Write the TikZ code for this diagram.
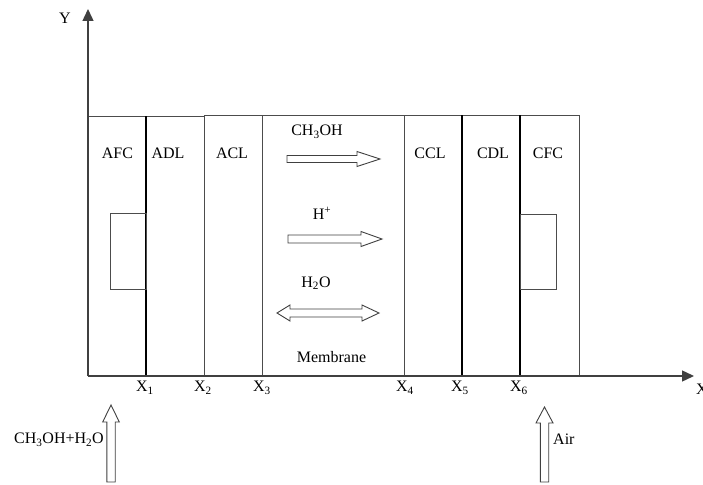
\documentclass[tikz,border=0pt]{standalone}
\usepackage{fontspec}
\setmainfont{Liberation Serif}
\usetikzlibrary{arrows.meta}
\begin{document}
\begin{tikzpicture}[x=1pt,y=-1pt,
  thinbox/.style={draw=black!70, line width=0.9pt},
  thickline/.style={draw=black, line width=1.9pt},
  axisline/.style={draw=black!75, line width=1.4pt, -{Triangle[length=12pt,width=11pt]}},
  lbl/.style={font=\fontsize{16}{18}\selectfont, inner sep=0pt},
  blockarrow/.style={draw=black!75, line width=0.9pt, fill=white, line join=miter}]
\useasboundingbox (0,0) rectangle (703,484);
% axes
\coordinate (O) at (88,376);
\coordinate (ytip) at (88,9);
\coordinate (xtip) at (694,376);
% layers
\draw[thinbox] (88,116) rectangle (146,376);
\draw[thinbox] (146,116) rectangle (204,376);
\draw[thinbox] (204,115) rectangle (262,376);
\draw[thinbox] (262,115) rectangle (404,376);
\draw[thinbox] (404,115) rectangle (462,376);
\draw[thinbox] (462,115) rectangle (520,376);
\draw[thinbox] (520,115) rectangle (579,376);
\draw[thickline] (146,116) -- (146,376);
\draw[thickline] (462,115) -- (462,376);
\draw[thickline] (520,115) -- (520,376);
% inner channels
\draw[thinbox] (110,213) rectangle (146,289);
\draw[thinbox] (520,214) rectangle (556,289);
\draw[axisline] (O) -- (ytip);
\draw[axisline] (O) -- (xtip);
\node[lbl] (ylab) at (65,18) {Y};
\node[lbl, anchor=west] (xlab) at (696,389) {X};
% layer labels
\node[lbl] (afc) at (117.5,153) {AFC};
\node[lbl] (adl) at (168,153) {ADL};
\node[lbl] (acl) at (232,153) {ACL};
\node[lbl] (ccl) at (430,153) {CCL};
\node[lbl] (cdl) at (493,153) {CDL};
\node[lbl] (cfc) at (548,153) {CFC};
% x positions
\node[lbl] (x1) at (145,388) {X\textsubscript{1}};
\node[lbl] (x2) at (203,388) {X\textsubscript{2}};
\node[lbl] (x3) at (262,388) {X\textsubscript{3}};
\node[lbl] (x4) at (405,388) {X\textsubscript{4}};
\node[lbl] (x5) at (460,388) {X\textsubscript{5}};
\node[lbl] (x6) at (519,388) {X\textsubscript{6}};
% membrane contents
\node[lbl] (meoh) at (317,132) {CH\textsubscript{3}OH};
\node[lbl] (hplus) at (322,213) {H\textsuperscript{+}};
\node[lbl] (water) at (316,283) {H\textsubscript{2}O};
\node[lbl] (mem) at (331.5,357) {Membrane};
\draw[blockarrow] (287,155.5) -- (357,155.5) -- (357,151.5) -- (380,159) -- (357,166.5) -- (357,162.5) -- (287,162.5) -- cycle;
\draw[blockarrow] (288,235) -- (361,235) -- (361,231.5) -- (382,239) -- (361,246.5) -- (361,243) -- (288,243) -- cycle;
\draw[blockarrow] (277,313) -- (290,305) -- (290,309) -- (362,309) -- (362,305) -- (379,313) -- (362,321) -- (362,317) -- (290,317) -- (290,321) -- cycle;
% feed arrows
\draw[blockarrow] (106.8,482) -- (106.8,422) -- (102.7,422) -- (111,405) -- (119.3,422) -- (115.2,422) -- (115.2,482) -- cycle;
\draw[blockarrow] (540.3,482) -- (540.3,423) -- (536,423) -- (544.5,407) -- (553,423) -- (548.7,423) -- (548.7,482) -- cycle;
\node[lbl, anchor=east] (feed) at (104,440) {CH\textsubscript{3}OH+H\textsubscript{2}O};
\node[lbl, anchor=west] (air) at (553,439) {Air};
\end{tikzpicture}
\end{document}
